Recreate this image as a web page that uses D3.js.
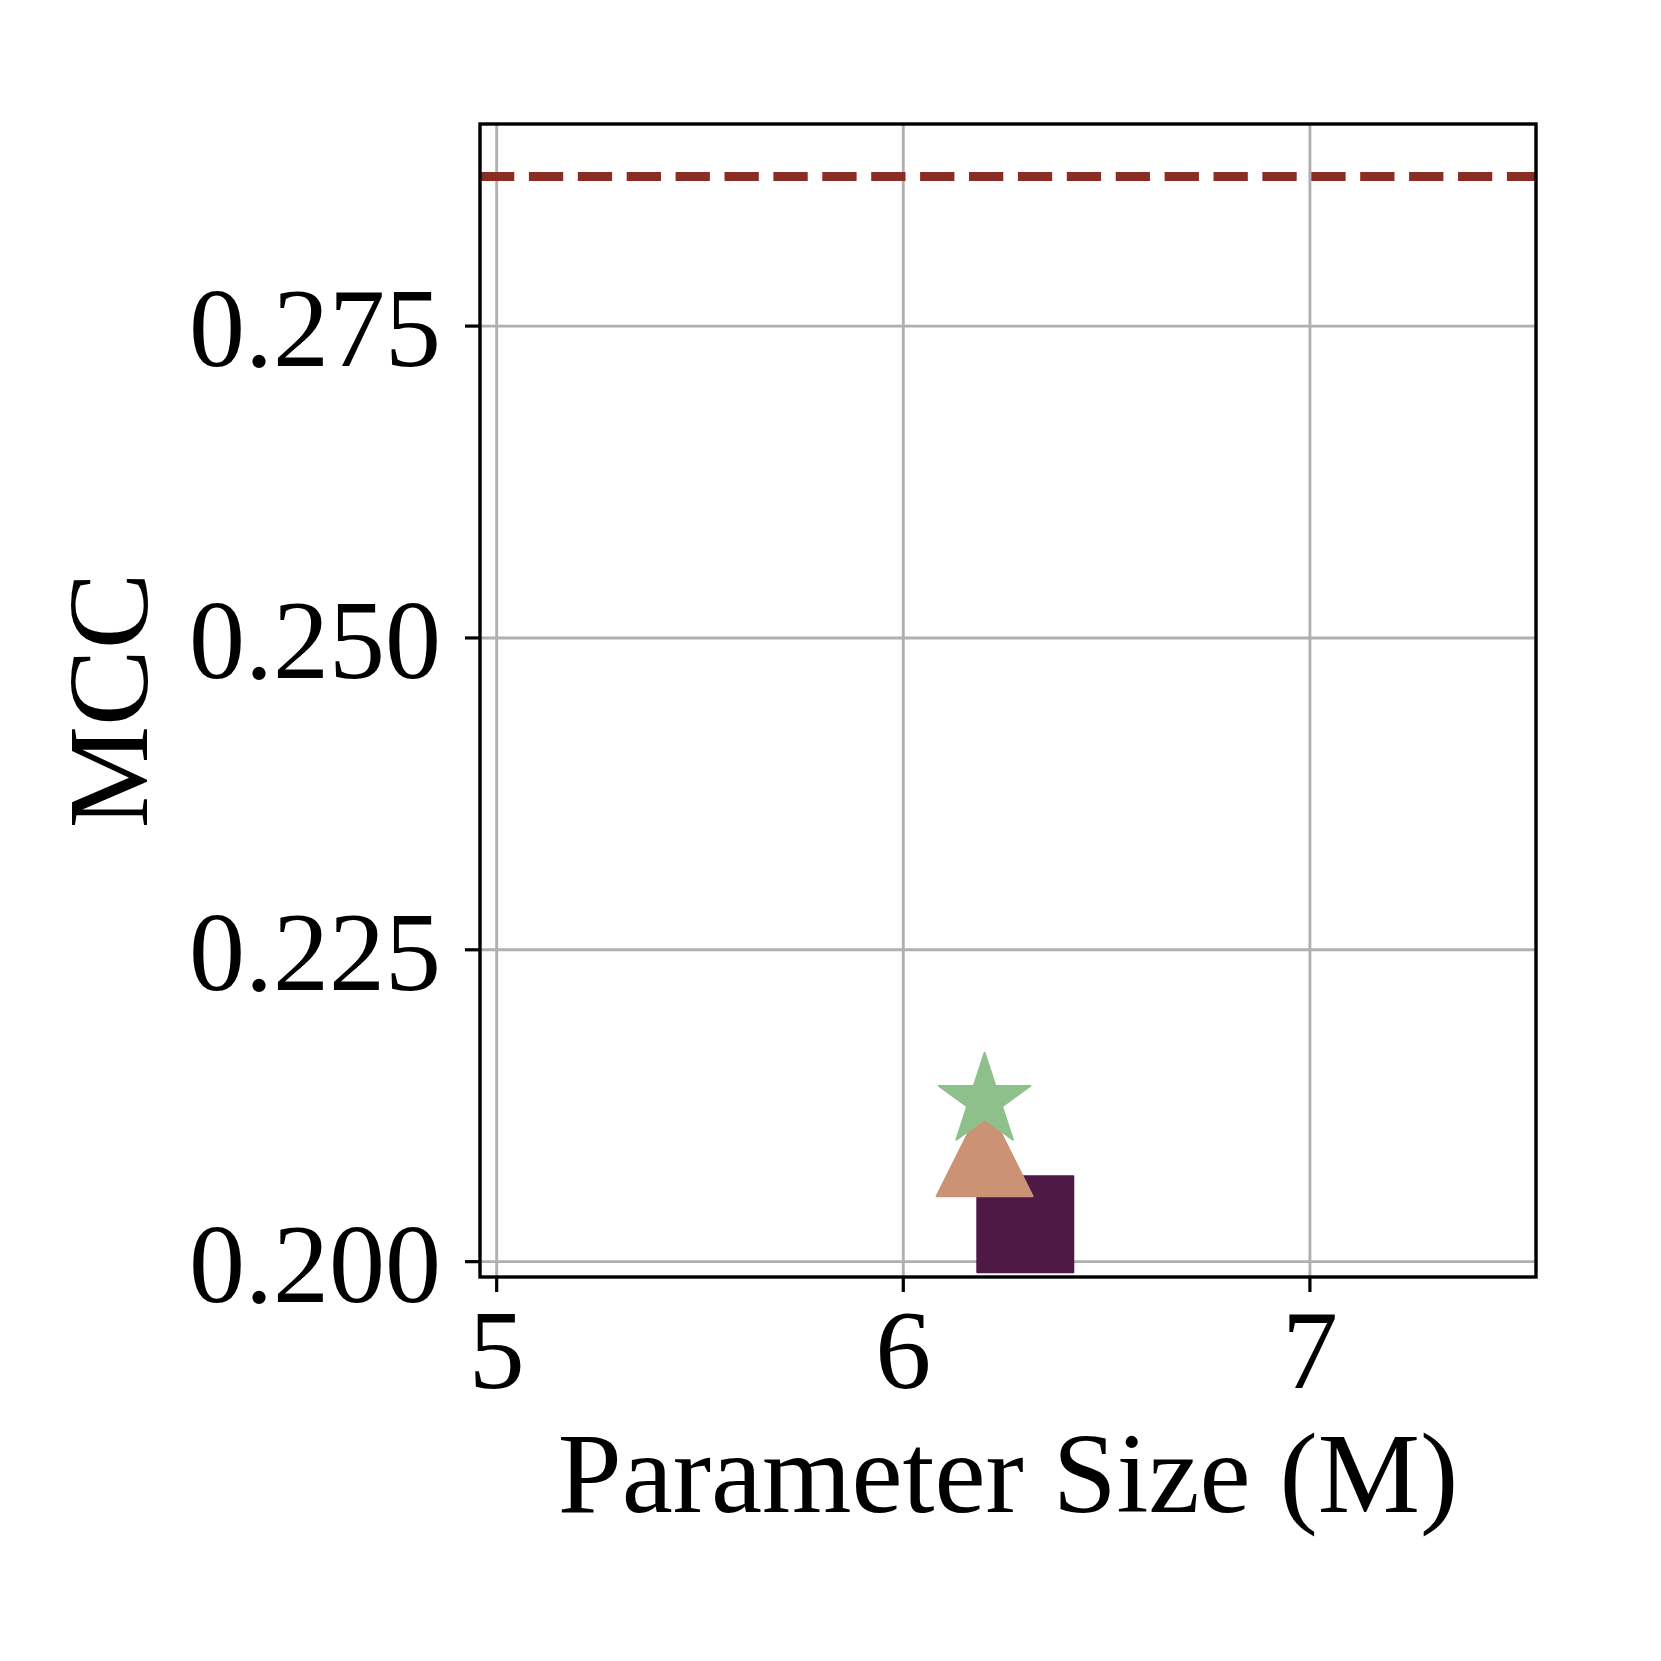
<!DOCTYPE html>
<html>
<head>
<meta charset="utf-8">
<script src="https://cdn.jsdelivr.net/npm/d3@7"></script>
<style>
  body { margin: 0; background: #fff; }
  text { font-family: "Liberation Serif", "DejaVu Serif", serif; fill: #000; }
</style>
</head>
<body>
<div id="chart"></div>
<script>
var width = 1661;
var height = 1661;

// data
var xTicks = [5, 6, 7];
var yTicks = [0.200, 0.225, 0.250, 0.275];
var models = ['square', 'triangle', 'star'];
var paramSizes = [6.3, 6.2, 6.2];
var mccValues = [0.2030, 0.2091, 0.2129];
var colors = ['#4e1a45', '#cb9373', '#8ec08b'];
var baselineMcc = 0.287;

var margin = { left: 480, right: 125, top: 124, bottom: 384 };

var svg = d3.select("#chart").append("svg")
  .attr("width", width)
  .attr("height", height);

var x = d3.scaleLinear()
  .domain([4.959, 7.556])
  .range([margin.left, width - margin.right]);

var y = d3.scaleLinear()
  .domain([0.19877, 0.2912])
  .range([height - margin.bottom, margin.top]);

var x0 = x.range()[0], x1 = x.range()[1];
var yB = y.range()[0], yT = y.range()[1];

// grid
svg.append("g")
  .selectAll("line.vgrid")
  .data(xTicks)
  .enter().append("line")
  .attr("x1", function(d) { return x(d); })
  .attr("x2", function(d) { return x(d); })
  .attr("y1", yT)
  .attr("y2", yB)
  .attr("stroke", "#b0b0b0")
  .attr("stroke-width", 2.9);

svg.append("g")
  .selectAll("line.hgrid")
  .data(yTicks)
  .enter().append("line")
  .attr("x1", x0)
  .attr("x2", x1)
  .attr("y1", function(d) { return y(d); })
  .attr("y2", function(d) { return y(d); })
  .attr("stroke", "#b0b0b0")
  .attr("stroke-width", 2.9);

// dashed reference line
svg.append("line")
  .attr("x1", x0)
  .attr("x2", x1)
  .attr("y1", y(baselineMcc))
  .attr("y2", y(baselineMcc))
  .attr("stroke", "#8c2d25")
  .attr("stroke-width", 9)
  .attr("stroke-dasharray", "34.3 14.6");

// markers
var ms = 96;
function starPath(R) {
  var r = R * 0.381966;
  var pts = [];
  for (var i = 0; i < 10; i++) {
    var a = -Math.PI / 2 + i * Math.PI / 5;
    var rr = i % 2 === 0 ? R : r;
    pts.push([rr * Math.cos(a), rr * Math.sin(a)]);
  }
  return "M" + pts.join("L") + "Z";
}
function markerPath(kind) {
  var h = ms / 2;
  if (kind === 'square') return "M" + (-h) + "," + (-h) + "H" + h + "V" + h + "H" + (-h) + "Z";
  if (kind === 'triangle') return "M0," + (-h) + "L" + h + "," + h + "L" + (-h) + "," + h + "Z";
  return starPath(h);
}

svg.append("g")
  .selectAll("path.marker")
  .data(models)
  .enter().append("path")
  .attr("d", function(d) { return markerPath(d); })
  .attr("transform", function(d, i) { return "translate(" + x(paramSizes[i]) + "," + y(mccValues[i]) + ")"; })
  .attr("fill", function(d, i) { return colors[i]; })
  .attr("stroke", function(d, i) { return colors[i]; })
  .attr("stroke-width", 2)
  .attr("stroke-linejoin", "round");

// frame
svg.append("rect")
  .attr("x", x0)
  .attr("y", yT)
  .attr("width", x1 - x0)
  .attr("height", yB - yT)
  .attr("fill", "none")
  .attr("stroke", "#000")
  .attr("stroke-width", 3.4);

// ticks
svg.append("g")
  .selectAll("line")
  .data(xTicks)
  .enter().append("line")
  .attr("x1", function(d) { return x(d); })
  .attr("x2", function(d) { return x(d); })
  .attr("y1", yB)
  .attr("y2", yB + 15)
  .attr("stroke", "#000")
  .attr("stroke-width", 3.2);

svg.append("g")
  .selectAll("line")
  .data(yTicks)
  .enter().append("line")
  .attr("x1", x0 - 15)
  .attr("x2", x0)
  .attr("y1", function(d) { return y(d); })
  .attr("y2", function(d) { return y(d); })
  .attr("stroke", "#000")
  .attr("stroke-width", 3.2);

svg.append("g")
  .selectAll("text")
  .data(xTicks)
  .enter().append("text")
  .attr("x", function(d) { return x(d); })
  .attr("y", yB + 111)
  .attr("text-anchor", "middle")
  .attr("font-size", 112)
  .text(function(d) { return d; });

svg.append("g")
  .selectAll("text")
  .data(yTicks)
  .enter().append("text")
  .attr("x", x0 - 39)
  .attr("y", function(d) { return y(d) + 40; })
  .attr("text-anchor", "end")
  .attr("font-size", 112)
  .text(function(d) { return d3.format(".3f")(d); });

// axis labels
svg.append("text")
  .attr("x", (x0 + x1) / 2)
  .attr("y", 1512)
  .attr("text-anchor", "middle")
  .attr("font-size", 115)
  .text("Parameter Size (M)");

svg.append("text")
  .attr("transform", "translate(147," + ((yT + yB) / 2) + ") rotate(-90)")
  .attr("text-anchor", "middle")
  .attr("font-size", 115)
  .text("MCC");
</script>
</body>
</html>
